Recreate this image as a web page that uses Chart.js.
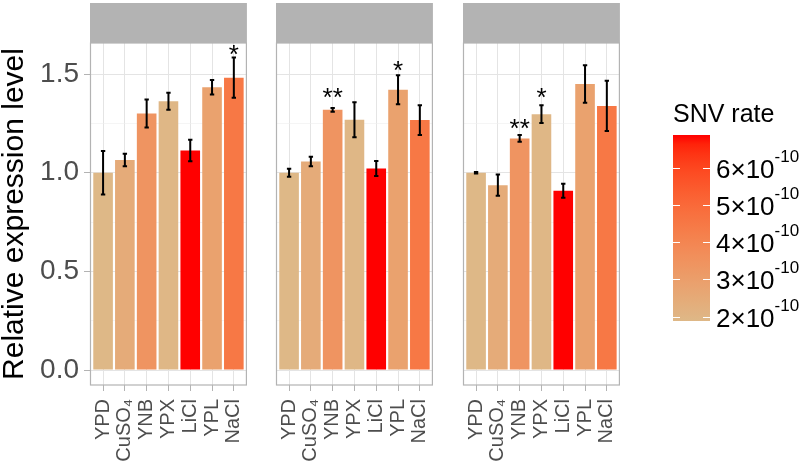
<!DOCTYPE html>
<html>
<head>
<meta charset="utf-8">
<script src="https://cdn.jsdelivr.net/npm/chart.js@4/dist/chart.umd.min.js"></script>
<style>
  body { margin: 0; background: #fff; }
  #wrap { position: relative; width: 800px; height: 473px; }
  canvas { position: absolute; top: 0; }
</style>
</head>
<body>
<div id="wrap">
  <canvas id="p1" width="266" height="473" style="left:0px"></canvas>
  <canvas id="p2" width="178" height="473" style="left:274px"></canvas>
  <canvas id="p3" width="178" height="473" style="left:461px"></canvas>
  <canvas id="legend" width="160" height="473" style="left:640px"></canvas>
</div>
<script>
// conditions, same order in every panel
const categories = ['YPD', 'CuSO\u2084', 'YNB', 'YPX', 'LiCl', 'YPL', 'NaCl'];
// SNV rate per condition, in units of 1e-10
const snvRate = [1.88, 2.45, 3.4, 1.92, 6.89, 2.85, 4.5];

// panel 1
const mean1 = [1.00, 1.065, 1.30, 1.363, 1.113, 1.434, 1.482];
const se1   = [0.11, 0.032, 0.071, 0.043, 0.054, 0.037, 0.102];
const sig1  = ['', '', '', '', '', '', '*'];
const sigY1 = [0, 0, 0, 0, 0, 0, 1.632];
// panel 2
const mean2 = [1.00, 1.057, 1.319, 1.269, 1.022, 1.421, 1.267];
const se2   = [0.02, 0.024, 0.009, 0.089, 0.038, 0.073, 0.076];
const sig2  = ['', '', '**', '', '', '*', ''];
const sigY2 = [0, 0, 1.415, 0, 0, 1.554, 0];
// panel 3
const mean3 = [1.00, 0.937, 1.174, 1.297, 0.909, 1.450, 1.339];
const se3   = [0.004, 0.054, 0.017, 0.045, 0.035, 0.095, 0.127];
const sig3  = ['', '', '**', '*', '', '', ''];
const sigY3 = [0, 0, 1.258, 1.415, 0, 0, 0];

const yTicks = [0, 0.25, 0.5, 0.75, 1, 1.25, 1.5];
const legendTicks = [2, 3, 4, 5, 6];

const family = "'Liberation Sans', Arial, sans-serif";
const lowColor = [222, 184, 135];  // burlywood
const highColor = [255, 0, 0];     // red

// colour gradient interpolated in Lab, like ggplot
function toLin(c) { c /= 255; return c <= 0.04045 ? c / 12.92 : Math.pow((c + 0.055) / 1.055, 2.4); }
function toSrgb(c) {
  c = c <= 0.0031308 ? 12.92 * c : 1.055 * Math.pow(c, 1 / 2.4) - 0.055;
  return Math.round(Math.max(0, Math.min(1, c)) * 255);
}
function rgbToLab(rgb) {
  const r = toLin(rgb[0]), g = toLin(rgb[1]), b = toLin(rgb[2]);
  const f = t => t > 0.008856 ? Math.cbrt(t) : 7.787 * t + 16 / 116;
  const fx = f((0.4124 * r + 0.3576 * g + 0.1805 * b) / 0.95047);
  const fy = f(0.2126 * r + 0.7152 * g + 0.0722 * b);
  const fz = f((0.0193 * r + 0.1192 * g + 0.9505 * b) / 1.08883);
  return [116 * fy - 16, 500 * (fx - fy), 200 * (fy - fz)];
}
function labToRgb(lab) {
  const fy = (lab[0] + 16) / 116, fx = fy + lab[1] / 500, fz = fy - lab[2] / 200;
  const inv = t => t * t * t > 0.008856 ? t * t * t : (t - 16 / 116) / 7.787;
  const X = inv(fx) * 0.95047, Y = inv(fy), Z = inv(fz) * 1.08883;
  const r = 3.2406 * X - 1.5372 * Y - 0.4986 * Z;
  const g = -0.9689 * X + 1.8758 * Y + 0.0415 * Z;
  const b = 0.0557 * X - 0.2040 * Y + 1.0570 * Z;
  return 'rgb(' + toSrgb(r) + ',' + toSrgb(g) + ',' + toSrgb(b) + ')';
}
const labLow = rgbToLab(lowColor), labHigh = rgbToLab(highColor);
const rateMin = Math.min(...snvRate), rateMax = Math.max(...snvRate);
function colorFor(rate) {
  const t = Math.max(0, Math.min(1, (rate - rateMin) / (rateMax - rateMin)));
  return labToRgb(labLow.map((v, i) => v + (labHigh[i] - v) * t));
}

const panelExtras = {
  id: 'panelExtras',
  afterDatasetsDraw(chart, args, opts) {
    const { ctx, scales: { x, y } } = chart;
    const half = x.getPixelForValue(1.1) - x.getPixelForValue(1);
    ctx.save();
    ctx.strokeStyle = '#000';
    ctx.lineWidth = 2;
    opts.mean.forEach((m, i) => {
      const cx = x.getPixelForValue(i + 1);
      const top = y.getPixelForValue(m + opts.se[i]);
      const bot = y.getPixelForValue(m - opts.se[i]);
      ctx.beginPath();
      ctx.moveTo(cx, top); ctx.lineTo(cx, bot);
      ctx.moveTo(cx - half, top); ctx.lineTo(cx + half, top);
      ctx.moveTo(cx - half, bot); ctx.lineTo(cx + half, bot);
      ctx.stroke();
    });
    ctx.fillStyle = '#000';
    ctx.font = '26px ' + family;
    ctx.textAlign = 'center';
    ctx.textBaseline = 'alphabetic';
    opts.sig.forEach((s, i) => {
      if (!s) return;
      ctx.fillText(s, x.getPixelForValue(i + 1), y.getPixelForValue(opts.sigY[i]) + 15);
    });
    ctx.restore();
  },
  afterDraw(chart) {
    const { ctx, chartArea: a } = chart;
    ctx.save();
    ctx.fillStyle = '#B3B3B3';
    ctx.fillRect(a.left, 3, a.right - a.left, a.top - 3);
    ctx.strokeStyle = '#B3B3B3';
    ctx.lineWidth = 1.2;
    ctx.strokeRect(a.left + 0.5, a.top, a.right - a.left - 1, a.bottom - a.top);
    ctx.restore();
  }
};

function makePanel(id, mean, se, sig, sigY, showY) {
  const points = mean.map((m, i) => ({ x: i + 1, y: m }));
  return new Chart(document.getElementById(id), {
    type: 'bar',
    data: {
      datasets: [{
        data: points,
        backgroundColor: snvRate.map(colorFor),
        barPercentage: 0.9,
        categoryPercentage: 1,
        borderWidth: 0
      }]
    },
    options: {
      responsive: false,
      animation: false,
      layout: { padding: { top: 43, left: showY ? 0 : 2, right: 2, bottom: 0 } },
      plugins: {
        legend: { display: false },
        tooltip: { enabled: false },
        panelExtras: { mean: mean, se: se, sig: sig, sigY: sigY }
      },
      scales: {
        x: {
          type: 'linear',
          min: 0.4,
          max: 7.6,
          offset: false,
          afterBuildTicks: s => { s.ticks = categories.map((c, i) => ({ value: i + 1 })); },
          afterFit: s => { s.height = 88; },
          ticks: {
            autoSkip: false,
            minRotation: 90,
            maxRotation: 90,
            padding: 8,
            color: '#4D4D4D',
            font: { family: family, size: 20 },
            callback: v => categories[v - 1]
          },
          grid: { offset: false, color: '#E4E4E4', lineWidth: 1, tickLength: 6, tickColor: '#B3B3B3' },
          border: { display: false }
        },
        y: {
          min: -0.076,
          max: 1.658,
          afterBuildTicks: s => { s.ticks = yTicks.map(v => ({ value: v })); },
          afterFit: s => { s.width = showY ? 90 : 0; },
          ticks: {
            display: showY,
            autoSkip: false,
            padding: 5,
            color: '#4D4D4D',
            font: { family: family, size: 28 },
            callback: v => (v % 0.5 === 0 ? v.toFixed(1) : '')
          },
          grid: {
            drawTicks: showY,
            tickLength: 6,
            color: c => (c.tick && c.tick.value % 0.5 === 0 ? '#E4E4E4' : '#EFEFEF'),
            lineWidth: c => (c.tick && c.tick.value % 0.5 === 0 ? 1 : 0.6),
            tickColor: c => (c.tick && c.tick.value % 0.5 === 0 ? '#B3B3B3' : 'rgba(0,0,0,0)')
          },
          border: { display: false },
          title: {
            display: showY,
            text: 'Relative expression level',
            color: '#000',
            padding: { top: 0, bottom: 0 },
            font: { family: family, size: 30, lineHeight: 1 }
          }
        }
      }
    },
    plugins: [panelExtras]
  });
}

makePanel('p1', mean1, se1, sig1, sigY1, true);
makePanel('p2', mean2, se2, sig2, sigY2, false);
makePanel('p3', mean3, se3, sig3, sigY3, false);

// colour bar legend
const legendExtras = {
  id: 'legendExtras',
  afterDraw(chart) {
    const { ctx, chartArea: a, scales: { y } } = chart;
    ctx.save();
    ctx.fillStyle = '#000';
    ctx.textAlign = 'left';
    ctx.textBaseline = 'middle';
    ctx.font = '25px ' + family;
    ctx.fillText('SNV rate', a.left, 115);
    ctx.strokeStyle = '#fff';
    ctx.lineWidth = 1.2;
    legendTicks.forEach(v => {
      const py = Math.round(y.getPixelForValue(v)) + 0.5;
      ctx.beginPath();
      ctx.moveTo(a.left, py); ctx.lineTo(a.left + 7, py);
      ctx.moveTo(a.right - 7, py); ctx.lineTo(a.right, py);
      ctx.stroke();
      ctx.font = '26px ' + family;
      const main = v + '\u00d710';
      ctx.fillText(main, a.right + 6, py + 2);
      const w = ctx.measureText(main).width;
      ctx.font = '17px ' + family;
      ctx.fillText('-10', a.right + 6 + w, py - 11);
    });
    ctx.restore();
  }
};

new Chart(document.getElementById('legend'), {
  type: 'bar',
  data: {
    labels: ['SNV rate'],
    datasets: [{
      data: [[rateMin, rateMax]],
      barPercentage: 1,
      categoryPercentage: 1,
      borderWidth: 0,
      backgroundColor: c => {
        const a = c.chart.chartArea;
        if (!a) return colorFor(rateMax);
        const g = c.chart.ctx.createLinearGradient(0, a.bottom, 0, a.top);
        for (let i = 0; i <= 20; i++) {
          g.addColorStop(i / 20, colorFor(rateMin + (rateMax - rateMin) * i / 20));
        }
        return g;
      }
    }]
  },
  options: {
    responsive: false,
    animation: false,
    layout: { padding: { left: 33, right: 90, top: 135, bottom: 152 } },
    plugins: { legend: { display: false }, tooltip: { enabled: false } },
    scales: {
      x: { display: false },
      y: { display: false, min: rateMin, max: rateMax }
    }
  },
  plugins: [legendExtras]
});
</script>
</body>
</html>
